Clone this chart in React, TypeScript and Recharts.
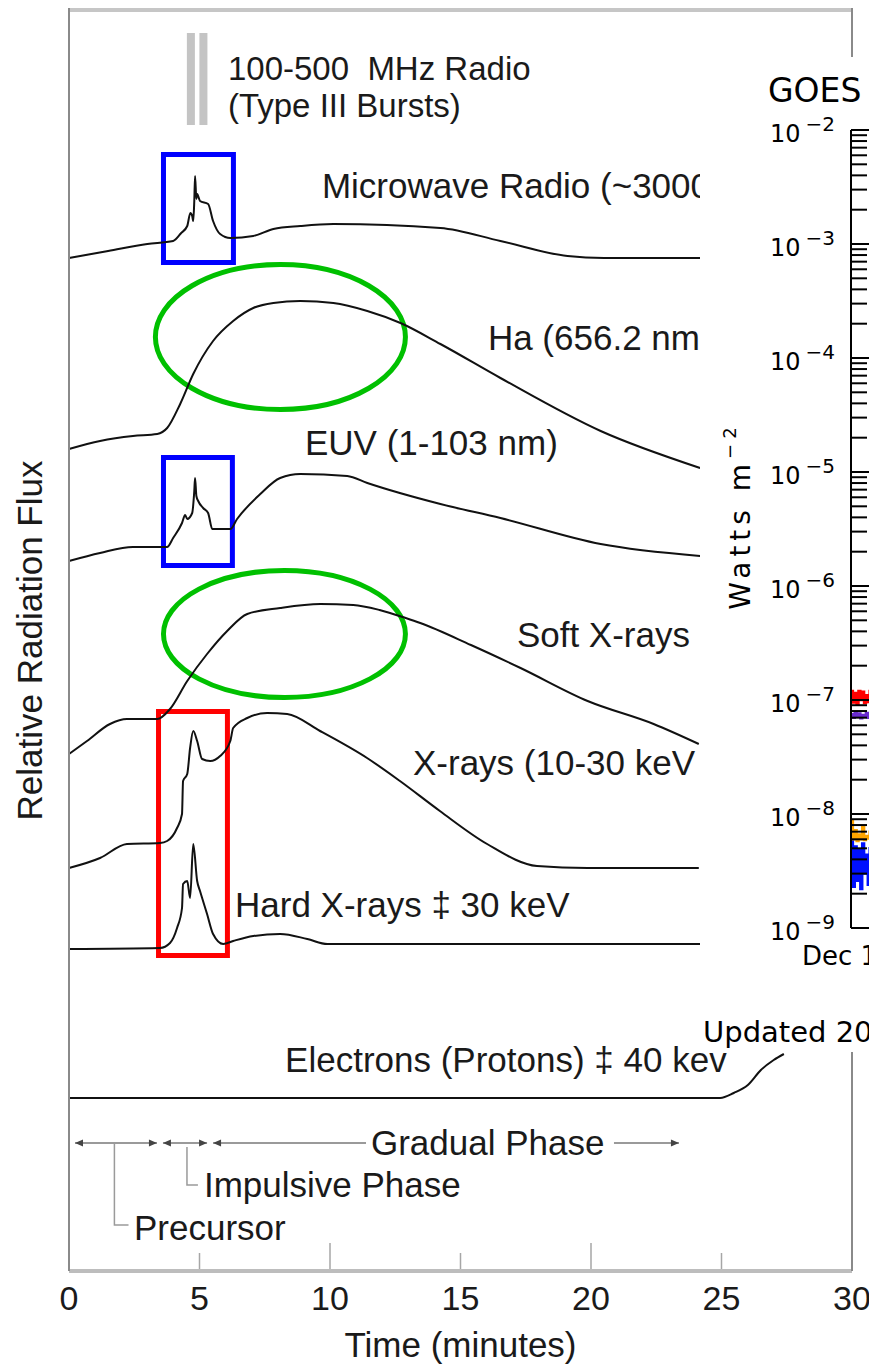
import React from "react";
import {
  ComposedChart,
  LineChart,
  Line,
  XAxis,
  YAxis,
  Label,
  ReferenceArea,
  ReferenceDot,
  ReferenceLine,
} from "recharts";

type Pair = [number, number];

const SANS = '"Liberation Sans", Arial, Helvetica, sans-serif';
const GOES_FONT = '"DejaVu Sans", Verdana, sans-serif';
const INK = "#1a1a1a";

// time axis, minutes
const timeTicks = [0, 5, 10, 15, 20, 25, 30];

// relative radiation flux curves: [minutes, relative flux]
const microwave: Pair[] = [
  [0, 101.3], [1.5, 102.0], [3.0, 102.7], [3.99, 103.0], [4.3, 103.8], [4.53, 104.5],
  [4.65, 105.8], [4.72, 105.5], [4.76, 105.0], [4.8, 107.0], [4.83, 109.5], [4.88, 107.2],
  [4.91, 107.7], [5.02, 107.0], [5.33, 106.7], [5.52, 105.0], [5.79, 103.7], [6.18, 103.3],
  [7.06, 103.5], [7.83, 104.2], [8.86, 104.5], [10.13, 104.7], [14.23, 104.3], [16.53, 103.0],
  [19.1, 101.5], [20.5, 101.3], [24.18, 101.3],
];
const hAlpha: Pair[] = [
  [0, 82.2], [1.19, 83.0], [2.45, 83.5], [3.38, 83.7], [3.76, 84.3], [4.26, 86.7], [4.76, 89.7],
  [5.52, 93.0], [6.29, 95.0], [7.06, 96.3], [7.83, 96.8], [8.86, 97.0], [10.13, 96.8],
  [11.43, 96.0], [12.7, 94.8], [14.23, 92.7], [16.53, 89.3], [20.37, 84.0], [24.18, 80.3],
];
const euv: Pair[] = [
  [0, 71.0], [1.19, 71.8], [2.45, 72.4], [3.76, 72.4], [3.99, 73.3], [4.33, 74.8], [4.45, 75.6],
  [4.53, 75.2], [4.72, 75.8], [4.8, 78.0], [4.83, 79.3], [4.88, 77.5], [4.95, 77.0], [5.14, 76.3],
  [5.33, 75.8], [5.49, 74.2], [6.18, 74.2], [6.44, 75.2], [7.33, 77.7], [8.09, 79.3], [8.86, 79.7],
  [10.66, 79.5], [11.43, 78.8], [14.23, 76.7], [16.53, 75.3], [20.37, 72.7], [24.18, 71.5],
];
const softXrays: Pair[] = [
  [0, 51.7], [0.69, 53.0], [1.57, 54.7], [2.22, 55.2], [3.38, 55.2], [3.87, 56.2], [4.53, 59.0],
  [5.29, 61.7], [6.06, 64.0], [6.83, 65.7], [8.09, 66.3], [9.63, 66.7], [10.89, 66.6],
  [11.9, 66.1], [12.9, 65.3], [13.46, 64.8], [15.4, 62.6], [17.3, 60.3], [19.87, 57.0],
  [22.4, 54.7], [24.13, 52.7],
];
const xrays: Pair[] = [
  [0, 40.3], [1.19, 41.3], [2.22, 42.7], [3.49, 42.8], [3.76, 43.0], [4.14, 44.3], [4.33, 45.7],
  [4.37, 49.0], [4.53, 49.7], [4.64, 52.3], [4.76, 54.0], [4.91, 53.0], [5.1, 51.2], [5.41, 51.0],
  [5.79, 51.5], [6.18, 53.0], [6.29, 54.3], [6.83, 55.3], [7.59, 55.8], [8.36, 55.7], [9.62, 54.0],
  [11.42, 51.3], [12.68, 49.0], [14.21, 46.0], [16.02, 42.7], [17.93, 40.5], [19.87, 40.3],
  [24.13, 40.3],
];
const hardXrays: Pair[] = [
  [0, 32.2], [3.49, 32.3], [3.87, 32.8], [4.14, 34.3], [4.33, 36.3], [4.37, 38.7], [4.53, 39.0],
  [4.64, 37.3], [4.76, 42.7], [4.91, 39.0], [5.02, 38.0], [5.29, 35.7], [5.52, 33.7], [5.91, 32.7],
  [6.29, 33.0], [7.06, 33.5], [8.09, 33.7], [9.13, 33.2], [9.9, 32.7], [14.23, 32.7], [24.18, 32.7],
];
const electrons: Pair[] = [
  [0, 17.3], [24.95, 17.3], [25.47, 17.8], [26.01, 18.6], [26.51, 20.1], [27.0, 21.1], [27.39, 21.7],
];

const curves = [microwave, hAlpha, euv, softXrays, xrays, hardXrays, electrons];

// phase markers along the bottom
const precursorSpan: Pair[] = [[0.23, 12.8], [3.37, 12.8]];
const impulsiveSpan: Pair[] = [[3.6, 12.8], [5.29, 12.8]];
const gradualStart: Pair[] = [[5.52, 12.8], [11.38, 12.8]];
const gradualEnd: Pair[] = [[20.88, 12.8], [23.37, 12.8]];
const precursorLeader: Pair[] = [[1.74, 12.8], [1.74, 4.6], [2.28, 4.6]];
const impulsiveLeader: Pair[] = [[4.52, 12.4], [4.52, 8.6], [4.94, 8.6]];

const curveLabels = [
  { text: "100-500\u00a0\u00a0MHz Radio", t: 6.09, v: 119.1, size: 33 },
  { text: "(Type III Bursts)", t: 6.09, v: 115.4, size: 33 },
  { text: "Microwave Radio (~3000", t: 9.69, v: 107.3, size: 35 },
  { text: "Ha (656.2 nm", t: 16.05, v: 92.1, size: 35 },
  { text: "EUV (1-103 nm)", t: 9.04, v: 81.6, size: 35 },
  { text: "Soft X-rays", t: 17.16, v: 62.4, size: 35 },
  { text: "X-rays (10-30 keV", t: 13.18, v: 49.6, size: 35 },
  { text: "Hard X-rays \u2021 30 keV", t: 6.36, v: 35.4, size: 35 },
  { text: "Electrons (Protons) \u2021 40 kev", t: 8.28, v: 19.9, size: 35 },
  { text: "Gradual Phase", t: 11.57, v: 11.6, size: 35 },
  { text: "Impulsive Phase", t: 5.17, v: 7.4, size: 35 },
  { text: "Precursor", t: 2.49, v: 3.1, size: 35 },
];

const radioBursts = [4.67, 5.15];
const burstRange = [114.6, 123.8];
const blueBoxes = [
  { x1: 3.62, x2: 6.3, y1: 100.85, y2: 111.65 },
  { x1: 3.62, x2: 6.26, y1: 70.55, y2: 81.35 },
];
const redBox = { x1: 3.43, x2: 6.07, y1: 31.55, y2: 55.95 };
const greenRings = [
  { x1: 3.31, x2: 12.89, y1: 86.15, y2: 100.65 },
  { x1: 3.62, x2: 12.89, y1: 57.35, y2: 70.05 },
];

// GOES inset (hours, W m^-2)
const goesDecades = [-9, -8, -7, -6, -5, -4, -3];
const goesMinor = [1, 2, 3, 4, 5, 6, 7, 8, 9];
const goesTicks = [...goesDecades.flatMap((d) => goesMinor.map((m) => m * Math.pow(10, d))), 1e-2];
const goesHours = [0, 0.5, 1, 1.5, 2, 2.5, 3, 3.5, 4, 4.5, 5, 5.5, 6, 6.5, 7, 7.5, 8];
const goesRed = [1.2e-7, 9.5e-8, 1.15e-7, 9.2e-8, 1.2e-7, 1.0e-7, 1.18e-7, 9.4e-8, 1.1e-7, 9.6e-8, 1.2e-7, 1.0e-7, 1.15e-7, 9.3e-8, 1.1e-7, 1.0e-7, 1.2e-7];
const goesPurple = [7.5e-8, 7.0e-8, 7.8e-8, 7.2e-8, 7.6e-8, 6.9e-8, 7.4e-8, 7.1e-8, 7.7e-8, 7.0e-8, 7.5e-8, 7.2e-8, 7.6e-8, 7.0e-8, 7.4e-8, 7.1e-8, 7.5e-8];
const goesOrange = [8.8e-9, 6.0e-9, 7.2e-9, 5.8e-9, 6.6e-9, 6.0e-9, 7.8e-9, 5.9e-9, 6.4e-9, 6.1e-9, 7.0e-9, 5.8e-9, 6.5e-9, 6.0e-9, 6.8e-9, 5.9e-9, 6.3e-9];
const goesBlue = [6.0e-9, 2.3e-9, 5.2e-9, 2.6e-9, 4.8e-9, 2.2e-9, 5.5e-9, 3.0e-9, 4.4e-9, 2.4e-9, 5.0e-9, 2.8e-9, 4.6e-9, 2.3e-9, 5.3e-9, 2.7e-9, 4.5e-9];

const toPts = (pairs: Pair[]) => pairs.map(([t, v]) => ({ t, v }));
const goesPts = (vals: number[]) => goesHours.map((h, i) => ({ h, v: vals[i] }));

function TimeTick(props: any) {
  const { x, y, payload } = props;
  const v = payload.value as number;
  const len = v === 0 || v === 30 ? 0 : v % 10 === 0 ? 28 : 18;
  return (
    <g>
      {len > 0 && <line x1={x} x2={x} y1={y - 2} y2={y - len} stroke="#a6a6a6" strokeWidth={1.5} />}
      <text x={x} y={y + 39} textAnchor="middle" fontFamily={SANS} fontSize={34} fill={INK}>
        {v}
      </text>
    </g>
  );
}

function GoesTick(props: any) {
  const { x, y, payload } = props;
  const lg = Math.log10(payload.value as number);
  const major = Math.abs(lg - Math.round(lg)) < 1e-6;
  return (
    <g>
      <line x1={x} x2={x + (major ? 40 : 16)} y1={y} y2={y} stroke="#000" strokeWidth={2} />
      {major && (
        <text x={x - 81} y={y + 12} fontFamily={GOES_FONT} fontSize={24} fill="#000">
          10
          <tspan dx={5} dy={-11} fontSize={20}>{"\u2212" + Math.abs(Math.round(lg))}</tspan>
        </text>
      )}
    </g>
  );
}

function DecTick(props: any) {
  const { x, y } = props;
  return (
    <text x={x - 49} y={y + 37} fontFamily={GOES_FONT} fontSize={26} fill="#000">
      Dec 1
    </text>
  );
}

const ellipseShape = (p: any) => (
  <ellipse
    cx={p.x + p.width / 2}
    cy={p.y + p.height / 2}
    rx={p.width / 2}
    ry={p.height / 2}
    fill="none"
    stroke="#00c000"
    strokeWidth={5}
  />
);

const textShape = (text: string, size: number) => (p: any) => (
  <text x={p.cx} y={p.cy} fontFamily={SANS} fontSize={size} fill={INK} style={{ whiteSpace: "pre" }}>
    {text}
  </text>
);

const arrowDot = (atStart: boolean, atEnd: boolean, last: number) => (p: any) => {
  const { cx, cy, index } = p;
  if (atStart && index === 0) return <path key={`s${index}`} d={`M${cx},${cy}l8,-3.5v7z`} fill="#444" />;
  if (atEnd && index === last) return <path key={`e${index}`} d={`M${cx},${cy}l-8,-3.5v7z`} fill="#444" />;
  return <g key={`n${index}`} />;
};

function GoesPanel() {
  return (
    <div
      style={{
        position: "absolute",
        left: 692,
        top: 49,
        width: 177,
        height: 995,
        background: "#fff",
        overflow: "hidden",
      }}
    >
      <LineChart width={420} height={995} margin={{ top: 73, right: 0, bottom: 0, left: 0 }}>
        <XAxis
          type="number"
          dataKey="h"
          domain={[0, 72]}
          ticks={[0]}
          height={124}
          tickSize={0}
          tickMargin={0}
          tickLine={false}
          axisLine={{ stroke: "#000", strokeWidth: 2 }}
          tick={(p: any) => <DecTick {...p} />}
        >
          <Label
            content={(p: any) => (
              <text x={p.viewBox.x - 148} y={p.viewBox.y + 114} fontFamily={GOES_FONT} fontSize={29} fill="#000">
                Updated 20
              </text>
            )}
          />
        </XAxis>
        <YAxis
          type="number"
          scale="log"
          domain={[1e-9, 1e-2]}
          ticks={goesTicks}
          interval={0}
          allowDataOverflow
          width={151}
          tickSize={0}
          tickMargin={0}
          tickLine={false}
          axisLine={{ stroke: "#000", strokeWidth: 2 }}
          tick={(p: any) => <GoesTick {...p} />}
        >
          <Label
            content={(p: any) => (
              <text x={p.viewBox.x + 68} y={p.viewBox.y - 28} fontFamily={GOES_FONT} fontSize={33} fill="#000">
                GOES
              </text>
            )}
          />
          <Label
            content={(p: any) => {
              const cx = p.viewBox.x + 50;
              const cy = p.viewBox.y + 386;
              return (
                <text
                  x={cx}
                  y={cy}
                  transform={`rotate(-90, ${cx}, ${cy})`}
                  textAnchor="middle"
                  fontFamily={GOES_FONT}
                  fontSize={28}
                  letterSpacing={5}
                  fill="#000"
                >
                  Watts m
                  <tspan fontSize={18} dy={-14}>{"\u22122"}</tspan>
                </text>
              );
            }}
          />
        </YAxis>
        <Line data={goesPts(goesBlue)} dataKey="v" type="stepAfter" stroke="#0010ff" strokeWidth={2.5} dot={false} isAnimationActive={false} />
        <Line data={goesPts(goesOrange)} dataKey="v" type="stepAfter" stroke="#ffa500" strokeWidth={2.5} dot={false} isAnimationActive={false} />
        <Line data={goesPts(goesPurple)} dataKey="v" type="stepAfter" stroke="#6a2bd0" strokeWidth={2.5} dot={false} isAnimationActive={false} />
        <Line data={goesPts(goesRed)} dataKey="v" type="stepAfter" stroke="#ff0000" strokeWidth={2.5} dot={false} isAnimationActive={false} />
      </LineChart>
    </div>
  );
}

export default function App() {
  return (
    <div style={{ position: "relative", width: 869, height: 1358 }}>
      <ComposedChart width={869} height={1358} margin={{ top: 0, right: 0, bottom: 0, left: 0 }}>
        <XAxis
          type="number"
          dataKey="t"
          domain={[0, 30]}
          ticks={timeTicks}
          interval={0}
          height={95}
          tickSize={0}
          tickMargin={0}
          tickLine={false}
          axisLine={{ stroke: "#bdbdbd", strokeWidth: 4 }}
          tick={(p: any) => <TimeTick {...p} />}
        >
          <Label
            content={(p: any) => (
              <text
                x={p.viewBox.x + p.viewBox.width / 2}
                y={p.viewBox.y + 86}
                textAnchor="middle"
                fontFamily={SANS}
                fontSize={35}
                fill={INK}
              >
                Time (minutes)
              </text>
            )}
          />
        </XAxis>
        <YAxis
          yAxisId="flux"
          type="number"
          domain={[0, 126.3]}
          width={61}
          tick={false}
          tickLine={false}
          axisLine={{ stroke: "#8a8a8a", strokeWidth: 2 }}
        >
          <Label
            content={(p: any) => {
              const cx = 34;
              const cy = p.viewBox.y + p.viewBox.height / 2 + 1;
              return (
                <text
                  x={cx}
                  y={cy}
                  transform={`rotate(-90, ${cx}, ${cy})`}
                  textAnchor="middle"
                  fontFamily={SANS}
                  fontSize={35}
                  fill={INK}
                >
                  Relative Radiation Flux
                </text>
              );
            }}
          />
        </YAxis>
        <YAxis
          yAxisId="edge"
          orientation="right"
          type="number"
          domain={[0, 1]}
          width={25}
          tick={false}
          tickLine={false}
          axisLine={{ stroke: "#8a8a8a", strokeWidth: 2 }}
        />

        <ReferenceLine yAxisId="flux" y={126.1} stroke="#c6c6c6" strokeWidth={4} ifOverflow="visible" />
        {radioBursts.map((t) => (
          <ReferenceLine
            key={t}
            yAxisId="flux"
            segment={[{ x: t, y: burstRange[0] }, { x: t, y: burstRange[1] }]}
            stroke="#c4c4c4"
            strokeWidth={8}
          />
        ))}

        {curves.map((c, i) => (
          <Line
            key={i}
            yAxisId="flux"
            data={toPts(c)}
            dataKey="v"
            type="monotone"
            stroke="#111"
            strokeWidth={2}
            dot={false}
            isAnimationActive={false}
          />
        ))}

        {[
          { d: precursorSpan, s: true, e: true },
          { d: impulsiveSpan, s: true, e: true },
          { d: gradualStart, s: true, e: false },
          { d: gradualEnd, s: false, e: true },
        ].map((seg, i) => (
          <Line
            key={`ph${i}`}
            yAxisId="flux"
            data={toPts(seg.d)}
            dataKey="v"
            type="linear"
            stroke="#9a9a9a"
            strokeWidth={2}
            dot={arrowDot(seg.s, seg.e, seg.d.length - 1)}
            isAnimationActive={false}
          />
        ))}
        {[precursorLeader, impulsiveLeader].map((d, i) => (
          <Line
            key={`ld${i}`}
            yAxisId="flux"
            data={toPts(d)}
            dataKey="v"
            type="linear"
            stroke="#9a9a9a"
            strokeWidth={1.5}
            dot={false}
            isAnimationActive={false}
          />
        ))}

        {blueBoxes.map((b, i) => (
          <ReferenceArea key={`b${i}`} yAxisId="flux" {...b} fill="none" stroke="#0000ff" strokeWidth={5} />
        ))}
        <ReferenceArea yAxisId="flux" {...redBox} fill="none" stroke="#ff0000" strokeWidth={5} />
        {greenRings.map((g, i) => (
          <ReferenceArea key={`g${i}`} yAxisId="flux" {...g} fill="none" shape={ellipseShape} />
        ))}

        {curveLabels.map((l) => (
          <ReferenceDot key={l.text} yAxisId="flux" x={l.t} y={l.v} r={0} shape={textShape(l.text, l.size)} />
        ))}
      </ComposedChart>
      <GoesPanel />
    </div>
  );
}
